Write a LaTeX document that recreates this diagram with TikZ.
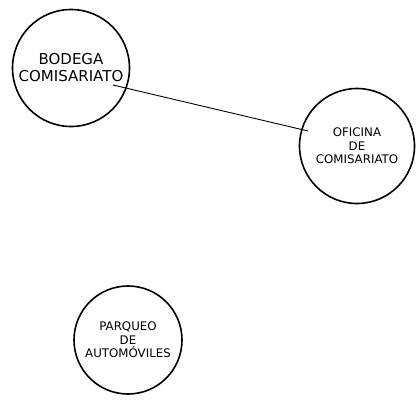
\documentclass[tikz,border=0pt]{standalone}
\usepackage{fontspec}
\setmainfont{DejaVu Sans}
\usetikzlibrary{positioning}
\tikzset{
  area/.style={circle, draw=black, line width=1.6pt, fill=white,
    align=center, inner sep=0pt},
  bigarea/.style={area, minimum size=117pt, font=\fontsize{15}{17}\selectfont},
  smarea/.style={area, font=\fontsize{11.8}{13.5}\selectfont},
  link/.style={line width=0.9pt, color=black},
}
\begin{document}
\begin{tikzpicture}[x=1pt, y=1pt]
  \useasboundingbox (0,0) rectangle (417,-402);

  \node[bigarea] (bodega) at (71,-68) {BODEGA\\COMISARIATO};
  \node[smarea, minimum size=115pt] (oficina) at (357,-146) {OFICINA\\DE\\COMISARIATO};
  \node[smarea, minimum size=108pt] (parqueo) at (128,-340) {PARQUEO\\DE\\AUTOM\'OVILES};

  % connector between the two comisariato areas
  \draw[link] ([shift={(42,-17)}]bodega.center) -- ([shift={(-49,15)}]oficina.center);
\end{tikzpicture}
\end{document}
